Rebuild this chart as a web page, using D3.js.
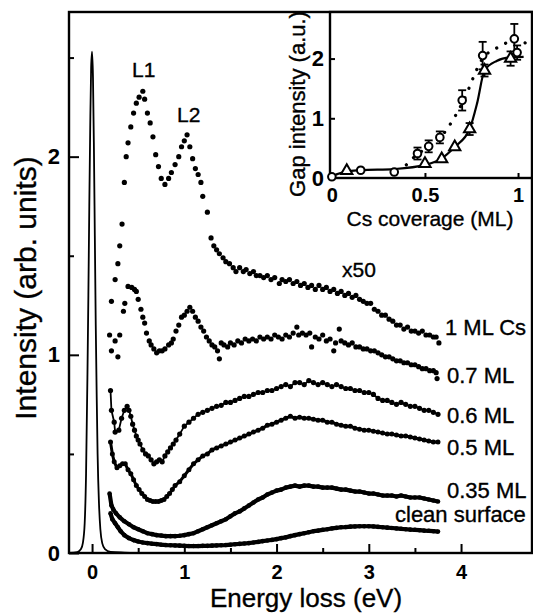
<!DOCTYPE html>
<html>
<head>
<meta charset="utf-8">
<script src="https://cdn.jsdelivr.net/npm/d3@7"></script>
<style>
  html, body { margin: 0; padding: 0; background: #fff; }
  svg { display: block; font-family: "Liberation Sans", Arial, sans-serif; }
  text { stroke: #000; stroke-width: 0.35px; }
  .tick text { font-weight: bold; stroke-width: 0; }
</style>
</head>
<body>
<svg id="chart" width="533" height="614"></svg>
<script>
/* EELS spectra vs Cs coverage, with gap-intensity inset
   ======================================================================= */

/* Data (energy loss in eV, intensity in arb. units)
======================================================================= */
var curveLabels = ['1 ML Cs', '0.7 ML', '0.6 ML', '0.5 ML', '0.35 ML', 'clean surface'];

// elastic (zero-loss) peak, solid line
var elastic = [[-0.25,0],[-0.16,0.005],[-0.12,0.02],[-0.10,0.05],[-0.08,0.15],[-0.065,0.4],[-0.05,0.9],
  [-0.04,1.3],[-0.03,1.75],[-0.02,2.15],[-0.01,2.45],[0.0,2.53],[0.01,2.4],[0.02,2.05],[0.03,1.6],
  [0.04,1.15],[0.05,0.8],[0.06,0.5],[0.075,0.25],[0.09,0.12],[0.11,0.05],[0.14,0.02],[0.2,0.006],
  [0.35,0.002],[0.5,0]];

var ml100 = [[0.28,1.46],[0.30,1.55],[0.325,1.66],[0.35,1.87],[0.37,2.00],[0.39,2.07],[0.42,2.15],
  [0.45,2.22],[0.48,2.27],[0.51,2.30],[0.55,2.33],[0.57,2.29],[0.60,2.22],[0.63,2.17],[0.66,2.10],
  [0.69,2.01],[0.72,1.95],[0.75,1.89],[0.79,1.86],[0.83,1.89],[0.86,1.92],[0.90,1.96],[0.94,2.00],
  [0.97,2.05],[1.00,2.08],[1.03,2.11],[1.06,2.05],[1.09,1.99],[1.12,1.94],[1.15,1.91],[1.18,1.87],
  [1.20,1.80],[1.25,1.72],[1.29,1.59],[1.32,1.55],[1.35,1.53],[1.38,1.51],[1.42,1.49],[1.45,1.47],
  [1.49,1.46],[1.53,1.44],[1.56,1.42],[1.60,1.44],[1.64,1.42],[1.67,1.43],[1.71,1.41],[1.75,1.42],
  [1.78,1.40],[1.82,1.40],[1.86,1.39],[1.90,1.40],[1.94,1.38],[1.98,1.39],[2.03,1.36],[2.06,1.38],
  [2.10,1.37],[2.14,1.38],[2.18,1.36],[2.22,1.37],[2.26,1.35],[2.30,1.36],[2.34,1.34],[2.38,1.35],
  [2.42,1.33],[2.46,1.35],[2.50,1.33],[2.54,1.34],[2.58,1.32],[2.62,1.33],[2.66,1.31],[2.70,1.32],
  [2.74,1.30],[2.78,1.31],[2.82,1.29],[2.86,1.30],[2.90,1.28],[2.94,1.27],[2.98,1.26],[3.02,1.26],
  [3.06,1.23],[3.10,1.22],[3.14,1.20],[3.18,1.20],[3.22,1.18],[3.26,1.17],[3.30,1.15],[3.34,1.15],
  [3.38,1.13],[3.42,1.14],[3.46,1.12],[3.50,1.12],[3.54,1.11],[3.58,1.12],[3.62,1.10],[3.66,1.10],
  [3.70,1.09],[3.73,1.09],[3.76,1.06]];

var ml070 = [[0.19,1.10],[0.21,1.27],[0.21,1.02],[0.25,1.38],[0.25,1.07],[0.28,0.99],[0.30,1.10],
  [0.34,1.22],[0.355,1.26],[0.39,1.345],[0.43,1.34],[0.46,1.33],[0.48,1.32],[0.50,1.28],[0.53,1.23],
  [0.55,1.19],[0.57,1.16],[0.59,1.11],[0.62,1.07],[0.64,1.05],[0.67,1.03],[0.70,1.01],[0.73,1.02],
  [0.76,1.02],[0.79,1.03],[0.83,1.05],[0.86,1.06],[0.88,1.08],[0.91,1.12],[0.94,1.15],[0.97,1.19],
  [1.00,1.20],[1.03,1.22],[1.06,1.24],[1.09,1.22],[1.12,1.19],[1.15,1.17],[1.18,1.14],[1.21,1.12],
  [1.24,1.09],[1.27,1.07],[1.30,1.05],[1.33,1.04],[1.36,1.02],[1.38,0.98],[1.40,1.06],[1.43,1.05],
  [1.47,1.04],[1.50,1.06],[1.54,1.05],[1.58,1.07],[1.62,1.06],[1.66,1.08],[1.70,1.07],[1.74,1.08],
  [1.78,1.07],[1.82,1.09],[1.86,1.08],[1.90,1.09],[1.94,1.08],[1.98,1.10],[2.02,1.09],[2.06,1.08],
  [2.10,1.10],[2.14,1.09],[2.18,1.11],[2.22,1.14],[2.24,1.10],[2.28,1.11],[2.32,1.10],[2.36,1.11],
  [2.38,1.04],[2.42,1.09],[2.46,1.08],[2.50,1.10],[2.54,1.07],[2.58,1.08],[2.62,1.02],[2.64,1.06],
  [2.68,1.13],[2.70,1.07],[2.74,1.06],[2.78,1.05],[2.82,1.06],[2.86,1.04],[2.90,1.04],[2.94,1.03],
  [2.98,1.03],[3.02,1.02],[3.06,1.02],[3.10,1.01],[3.14,1.00],[3.18,0.99],[3.22,0.99],[3.26,0.98],
  [3.30,0.97],[3.34,0.97],[3.38,0.96],[3.42,0.96],[3.46,0.95],[3.50,0.95],[3.54,0.94],[3.58,0.93],
  [3.62,0.93],[3.66,0.92],[3.70,0.92],[3.73,0.91],[3.74,0.88]];

var ml060 = [[0.20,0.82],[0.21,0.72],[0.24,0.66],[0.25,0.61],[0.29,0.62],[0.32,0.68],[0.35,0.72],
  [0.38,0.74],[0.40,0.72],[0.42,0.69],[0.44,0.65],[0.46,0.62],[0.48,0.59],[0.50,0.57],[0.52,0.55],
  [0.55,0.52],[0.58,0.50],[0.61,0.49],[0.64,0.47],[0.67,0.45],[0.70,0.46],[0.73,0.47],[0.76,0.46],
  [0.79,0.49],[0.82,0.51],[0.85,0.53],[0.88,0.55],[0.91,0.57],[0.95,0.60],[1.00,0.64],[1.05,0.66],
  [1.10,0.68],[1.15,0.70],[1.20,0.71],[1.25,0.72],[1.30,0.73],[1.35,0.74],[1.40,0.745],[1.45,0.76],
  [1.50,0.76],[1.55,0.77],[1.60,0.78],[1.65,0.79],[1.70,0.79],[1.75,0.80],[1.80,0.81],[1.85,0.81],
  [1.90,0.82],[1.95,0.82],[2.00,0.83],[2.05,0.84],[2.10,0.85],[2.15,0.84],[2.20,0.86],[2.25,0.86],
  [2.30,0.85],[2.35,0.87],[2.40,0.86],[2.45,0.85],[2.50,0.86],[2.55,0.85],[2.60,0.84],[2.65,0.85],
  [2.70,0.84],[2.75,0.83],[2.80,0.83],[2.85,0.82],[2.90,0.82],[2.95,0.81],[3.00,0.81],[3.05,0.80],
  [3.10,0.78],[3.15,0.77],[3.20,0.77],[3.25,0.76],[3.30,0.75],[3.35,0.76],[3.40,0.75],[3.45,0.74],
  [3.50,0.74],[3.55,0.73],[3.60,0.72],[3.65,0.72],[3.70,0.71],[3.75,0.70]];

var ml050 = [[0.20,0.56],[0.22,0.50],[0.24,0.46],[0.27,0.43],[0.30,0.44],[0.33,0.45],[0.36,0.45],
  [0.39,0.42],[0.42,0.40],[0.45,0.37],[0.48,0.34],[0.51,0.32],[0.54,0.30],[0.57,0.285],[0.60,0.27],
  [0.63,0.265],[0.66,0.26],[0.69,0.26],[0.72,0.26],[0.75,0.265],[0.78,0.27],[0.81,0.285],[0.84,0.30],
  [0.87,0.32],[0.90,0.34],[0.95,0.36],[1.00,0.39],[1.05,0.42],[1.10,0.45],[1.15,0.47],[1.20,0.49],
  [1.25,0.50],[1.30,0.52],[1.35,0.53],[1.40,0.54],[1.45,0.55],[1.50,0.56],[1.55,0.57],[1.60,0.58],
  [1.65,0.59],[1.70,0.60],[1.75,0.61],[1.80,0.62],[1.85,0.63],[1.90,0.645],[1.95,0.65],[2.00,0.66],
  [2.05,0.67],[2.10,0.68],[2.15,0.69],[2.20,0.68],[2.25,0.685],[2.30,0.68],[2.35,0.68],[2.40,0.675],
  [2.45,0.67],[2.50,0.67],[2.55,0.66],[2.60,0.66],[2.65,0.65],[2.70,0.645],[2.75,0.64],[2.80,0.64],
  [2.85,0.63],[2.90,0.625],[2.95,0.62],[3.00,0.62],[3.05,0.615],[3.10,0.61],[3.15,0.605],[3.20,0.60],
  [3.25,0.60],[3.30,0.595],[3.35,0.59],[3.40,0.59],[3.45,0.585],[3.50,0.58],[3.55,0.575],[3.60,0.57],
  [3.65,0.565],[3.70,0.56],[3.75,0.56]];

var ml035 = [[0.19,0.30],[0.21,0.24],[0.23,0.22],[0.26,0.20],[0.30,0.18],[0.35,0.16],[0.40,0.145],
  [0.45,0.13],[0.50,0.12],[0.55,0.11],[0.60,0.10],[0.65,0.095],[0.70,0.09],[0.75,0.088],[0.80,0.085],
  [0.85,0.085],[0.90,0.085],[0.95,0.087],[1.00,0.09],[1.05,0.095],[1.10,0.10],[1.15,0.11],[1.20,0.12],
  [1.25,0.13],[1.30,0.14],[1.35,0.15],[1.40,0.16],[1.45,0.17],[1.50,0.185],[1.55,0.20],[1.60,0.21],
  [1.65,0.225],[1.70,0.24],[1.75,0.255],[1.80,0.27],[1.85,0.28],[1.90,0.295],[1.95,0.305],[2.00,0.315],
  [2.05,0.32],[2.10,0.33],[2.15,0.335],[2.20,0.34],[2.25,0.335],[2.30,0.34],[2.35,0.34],[2.40,0.335],
  [2.45,0.335],[2.50,0.33],[2.55,0.33],[2.60,0.33],[2.65,0.325],[2.70,0.32],[2.75,0.32],[2.80,0.315],
  [2.85,0.31],[2.90,0.31],[2.95,0.305],[3.00,0.30],[3.05,0.30],[3.10,0.295],[3.15,0.29],[3.20,0.29],
  [3.25,0.29],[3.30,0.285],[3.35,0.29],[3.40,0.285],[3.45,0.28],[3.50,0.28],[3.55,0.28],[3.60,0.275],
  [3.65,0.27],[3.70,0.265],[3.75,0.26]];

var clean = [[0.20,0.20],[0.22,0.17],[0.25,0.15],[0.28,0.13],[0.31,0.11],[0.35,0.09],[0.40,0.075],
  [0.45,0.065],[0.50,0.058],[0.55,0.053],[0.60,0.05],[0.65,0.047],[0.70,0.045],[0.75,0.042],[0.80,0.04],
  [0.85,0.039],[0.90,0.038],[0.95,0.037],[1.00,0.036],[1.05,0.035],[1.10,0.035],[1.15,0.035],[1.20,0.036],
  [1.25,0.036],[1.30,0.037],[1.35,0.038],[1.40,0.039],[1.45,0.04],[1.50,0.042],[1.55,0.044],[1.60,0.046],
  [1.65,0.048],[1.70,0.05],[1.75,0.053],[1.80,0.056],[1.85,0.06],[1.90,0.063],[1.95,0.066],[2.00,0.07],
  [2.05,0.075],[2.10,0.079],[2.15,0.085],[2.20,0.09],[2.25,0.095],[2.30,0.10],[2.35,0.105],[2.40,0.11],
  [2.45,0.113],[2.50,0.117],[2.55,0.12],[2.60,0.124],[2.65,0.127],[2.70,0.13],[2.75,0.131],[2.80,0.133],
  [2.85,0.134],[2.90,0.135],[2.95,0.135],[3.00,0.135],[3.05,0.134],[3.10,0.132],[3.15,0.13],[3.20,0.128],
  [3.25,0.126],[3.30,0.124],[3.35,0.122],[3.40,0.12],[3.45,0.118],[3.50,0.117],[3.55,0.115],[3.60,0.113],
  [3.65,0.112],[3.70,0.11],[3.75,0.108]];

// inset: gap intensity vs Cs coverage
var covCircle = [0, 0.155, 0.335, 0.46, 0.52, 0.58, 0.70, 0.81, 0.98, 0.995],
    gapCircle = [0.02, 0.13, 0.10, 0.41, 0.53, 0.68, 1.30, 2.05, 2.33, 2.10],
    errCircle = [0, 0, 0, 0.10, 0.10, 0.10, 0.17, 0.23, 0.25, 0.12];
var covTri = [0.08, 0.50, 0.59, 0.66, 0.74, 0.82, 0.96],
    gapTri = [0.12, 0.24, 0.32, 0.52, 0.82, 1.80, 2.00],
    errTri = [0, 0, 0, 0, 0.10, 0.10, 0.12];
// guide-to-the-eye curves drawn in the inset
var fitSolidX = [0, 0.08, 0.155, 0.335, 0.50, 0.59, 0.66, 0.74, 0.78, 0.82, 0.885, 0.96, 1.03],
    fitSolidY = [0.03, 0.11, 0.13, 0.15, 0.22, 0.33, 0.52, 0.82, 1.25, 1.80, 1.96, 2.02, 2.03];
var fitDotX = [0.40, 0.46, 0.52, 0.58, 0.70, 0.81, 0.90, 0.98, 1.05],
    fitDotY = [0.22, 0.40, 0.52, 0.67, 1.25, 2.00, 2.20, 2.30, 2.25];

/* Layout
======================================================================= */
var svg = d3.select('#chart'),
    font = '"Liberation Sans", Arial, sans-serif',
    x = d3.scaleLinear().domain([-0.25, 4.78]).range([69, 533]),
    y = d3.scaleLinear().domain([0, 2.73]).range([553, 12]),
    ix = d3.scaleLinear().domain([-0.01, 1.075]).range([330, 532]),
    iy = d3.scaleLinear().domain([0, 2.78]).range([178, 12]);

/* Main axes
======================================================================= */
function styleAxis(g, size) {
  g.select('.domain').remove();
  g.selectAll('.tick line').attr('stroke', '#000').attr('stroke-width', 2);
  g.selectAll('.tick text').attr('fill', '#000').style('font-size', size + 'px').style('font-family', font);
}

svg.append('g').attr('transform', 'translate(0,553)')
  .call(d3.axisBottom(x).tickValues([0, 1, 2, 3, 4]).tickSize(-9).tickPadding(12).tickFormat(d3.format('d')))
  .call(styleAxis, 20);
svg.append('g').attr('transform', 'translate(0,553)')
  .call(d3.axisBottom(x).tickValues([0.5, 1.5, 2.5, 3.5]).tickSize(-5).tickFormat(''))
  .call(styleAxis, 20);
svg.append('g').attr('transform', 'translate(69,0)')
  .call(d3.axisLeft(y).tickValues([0, 1, 2]).tickSize(-10).tickPadding(9).tickFormat(d3.format('d')))
  .call(styleAxis, 22);
svg.append('g').attr('transform', 'translate(69,0)')
  .call(d3.axisLeft(y).tickValues([0.5, 1.5, 2.5]).tickSize(-5).tickFormat(''))
  .call(styleAxis, 22);

// frame
svg.append('rect')
  .attr('x', x.range()[0]).attr('y', y.range()[1])
  .attr('width', 532 - x.range()[0]).attr('height', y.range()[0] - y.range()[1])
  .attr('fill', 'none').attr('stroke', '#000').attr('stroke-width', 2.4);

// axis titles
svg.append('text').attr('x', 306).attr('y', 607).attr('text-anchor', 'middle')
  .style('font-size', '26px').style('font-family', font).text('Energy loss (eV)');
svg.append('text').attr('transform', 'translate(36,288) rotate(-90)').attr('text-anchor', 'middle')
  .style('font-size', '30px').style('font-family', font).text('Intensity (arb. units)');

/* Spectra
======================================================================= */
var plot = svg.append('g');

plot.append('path').datum(elastic)
  .attr('fill', 'none').attr('stroke', '#000').attr('stroke-width', 1.8)
  .attr('d', d3.line().x(function(d) { return x(d[0]); }).y(function(d) { return y(d[1]); }).curve(d3.curveMonotoneX));

var spectra = [ml100, ml070, ml060, ml050, ml035, clean],
    lineWidths = [0, 0, 1.8, 3, 4.2, 4.2], // connecting trace under the dots
    dotRadius = [2.6, 2.6, 2.6, 2.5, 2.3, 2.3];

spectra.forEach(function(s, i) {
  if (lineWidths[i] > 0) {
    plot.append('path').datum(s)
      .attr('fill', 'none').attr('stroke', '#000').attr('stroke-width', lineWidths[i])
      .attr('stroke-linejoin', 'round')
      .attr('d', d3.line().x(function(d) { return x(d[0]); }).y(function(d) { return y(d[1]); }));
  }
  plot.append('g').selectAll('circle').data(s).enter().append('circle')
    .attr('cx', function(d) { return x(d[0]); })
    .attr('cy', function(d) { return y(d[1]); })
    .attr('r', dotRadius[i]).attr('fill', '#000');
});

// curve labels
var labelPos = [[445, 335], [447, 383], [447, 423], [447, 455], [447, 498], [395, 522]];
svg.append('g').selectAll('text').data(curveLabels).enter().append('text')
  .attr('x', function(d, i) { return labelPos[i][0]; })
  .attr('y', function(d, i) { return labelPos[i][1]; })
  .style('font-size', '22px').style('font-family', font)
  .text(function(d) { return d; });

svg.append('text').attr('x', 132).attr('y', 77).style('font-size', '21px').style('font-family', font).text('L1');
svg.append('text').attr('x', 177).attr('y', 122).style('font-size', '21px').style('font-family', font).text('L2');
svg.append('text').attr('x', 342).attr('y', 277).style('font-size', '21px').style('font-family', font).text('x50');

/* Inset
======================================================================= */
var inset = svg.append('g');

inset.append('rect')
  .attr('x', ix.range()[0]).attr('y', iy.range()[1])
  .attr('width', ix.range()[1] - ix.range()[0]).attr('height', iy.range()[0] - iy.range()[1])
  .attr('fill', '#fff').attr('stroke', '#000').attr('stroke-width', 2.4);

inset.append('g').attr('transform', 'translate(0,178)')
  .call(d3.axisBottom(ix).tickValues([0, 0.5, 1]).tickSize(-5).tickPadding(10).tickFormat(d3.format('~g')))
  .call(styleAxis, 20);
inset.append('g').attr('transform', 'translate(330,0)')
  .call(d3.axisLeft(iy).tickValues([0, 1, 2]).tickSize(-5).tickPadding(6).tickFormat(d3.format('d')))
  .call(styleAxis, 22);

inset.append('text').attr('x', 430).attr('y', 226).attr('text-anchor', 'middle')
  .style('font-size', '21px').style('font-family', font).text('Cs coverage (ML)');
inset.append('text').attr('transform', 'translate(305,104) rotate(-90)').attr('text-anchor', 'middle')
  .style('font-size', '22px').style('font-family', font).text('Gap intensity (a.u.)');

var fitLine = d3.line()
  .x(function(d) { return ix(d[0]); })
  .y(function(d) { return iy(d[1]); })
  .curve(d3.curveMonotoneX);

inset.append('path').datum(d3.zip(fitSolidX, fitSolidY))
  .attr('fill', 'none').attr('stroke', '#000').attr('stroke-width', 2.2)
  .attr('d', fitLine);
inset.append('path').datum(d3.zip(fitDotX, fitDotY))
  .attr('fill', 'none').attr('stroke', '#000').attr('stroke-width', 3.2)
  .attr('stroke-linecap', 'round').attr('stroke-dasharray', '0.1 10')
  .attr('d', fitLine);

// error bars
function errorBars(xs, ys, es) {
  var g = inset.append('g').attr('stroke', '#000').attr('stroke-width', 1.8);
  xs.forEach(function(c, i) {
    if (!es[i]) return;
    var cx = ix(c), y0 = iy(ys[i] - es[i]), y1 = iy(ys[i] + es[i]);
    g.append('line').attr('x1', cx).attr('x2', cx).attr('y1', y0).attr('y2', y1);
    g.append('line').attr('x1', cx - 4).attr('x2', cx + 4).attr('y1', y0).attr('y2', y0);
    g.append('line').attr('x1', cx - 4).attr('x2', cx + 4).attr('y1', y1).attr('y2', y1);
  });
}
errorBars(covCircle, gapCircle, errCircle);
errorBars(covTri, gapTri, errTri);

inset.append('g').selectAll('path').data(d3.zip(covTri, gapTri)).enter().append('path')
  .attr('transform', function(d) { return 'translate(' + ix(d[0]) + ',' + iy(d[1]) + ')'; })
  .attr('d', d3.symbol(d3.symbolTriangle, 55))
  .attr('fill', '#fff').attr('stroke', '#000').attr('stroke-width', 2);

inset.append('g').selectAll('circle').data(d3.zip(covCircle, gapCircle)).enter().append('circle')
  .attr('cx', function(d) { return ix(d[0]); })
  .attr('cy', function(d) { return iy(d[1]); })
  .attr('r', 3.8).attr('fill', '#fff').attr('stroke', '#000').attr('stroke-width', 2);
</script>
</body>
</html>
